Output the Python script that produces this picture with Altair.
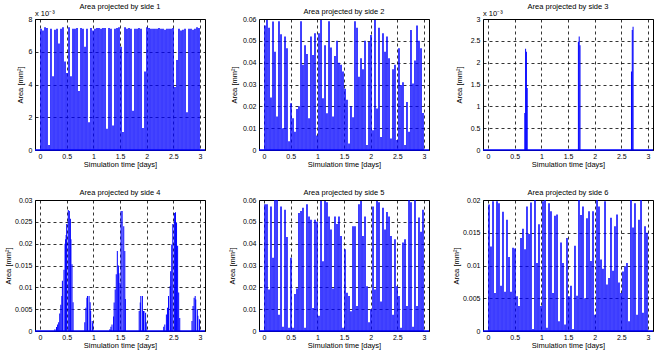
import altair as alt
import pandas as pd

# shared sample times [days] for the dense panels
t_days = [0.019, 0.056, 0.094, 0.131, 0.169, 0.206, 0.244, 0.281, 0.319, 0.356,
          0.394, 0.431, 0.469, 0.506, 0.544, 0.581, 0.619, 0.656, 0.694, 0.731,
          0.769, 0.806, 0.844, 0.881, 0.919, 0.956, 0.994, 1.031, 1.069, 1.106,
          1.144, 1.181, 1.219, 1.256, 1.294, 1.331, 1.369, 1.406, 1.444, 1.481,
          1.519, 1.556, 1.594, 1.631, 1.669, 1.706, 1.744, 1.781, 1.819, 1.856,
          1.894, 1.931, 1.969, 2.006, 2.044, 2.081, 2.119, 2.156, 2.194, 2.231,
          2.269, 2.306, 2.344, 2.381, 2.419, 2.456, 2.494, 2.531, 2.569, 2.606,
          2.644, 2.681, 2.719, 2.756, 2.794, 2.831, 2.869, 2.906, 2.944, 2.981]

# side 1 area, in units of 1e-3 mm^2
side1_area_e3 = [7.4, 7.3, 7.5, 7.45, 0.3, 7.4, 4.5, 7.35, 7.4, 6.5,
                 7.4, 7.5, 5.4, 4.7, 7.5, 4.5, 7.4, 7.4, 7.45, 3.6,
                 7.45, 7.4, 6.3, 7.4, 1.7, 7.45, 7.3, 7.4, 7.45, 7.45,
                 7.4, 7.45, 7.45, 1.3, 7.45, 7.4, 1.5, 7.4, 7.45, 7.5,
                 6.3, 1.1, 7.5, 7.4, 7.45, 7.4, 2.4, 7.4, 7.4, 7.45,
                 7.4, 1.35, 4.8, 7.5, 7.45, 7.4, 7.4, 7.4, 7.4, 7.45,
                 7.4, 7.4, 7.35, 7.4, 7.4, 7.4, 7.45, 3.85, 5.5, 7.4,
                 7.3, 7.35, 7.4, 2.3, 7.4, 7.4, 7.35, 7.4, 7.5, 7.45]

side2_area = [0.057, 0.0595, 0.056, 0.024, 0.0588, 0.045, 0.0153, 0.059, 0.053, 0.01,
              0.052, 0.0466, 0.004, 0.0214, 0.0145, 0.0084, 0.0188, 0.02, 0.059, 0.039,
              0.048, 0.044, 0.0145, 0.052, 0.0435, 0.0535, 0.0066, 0.0535, 0.0595, 0.0237,
              0.048, 0.0168, 0.059, 0.047, 0.0153, 0.043, 0.05, 0.04, 0.039, 0.036,
              0.028, 0.023, 0.003, 0.02, 0.015, 0.059, 0.056, 0.0336, 0.042, 0.037,
              0.05, 0.0023, 0.0496, 0.0527, 0.009, 0.0595, 0.019, 0.056, 0.006, 0.0535,
              0.045, 0.052, 0.042, 0.0053, 0.037, 0.039, 0.0046, 0.0466, 0.0298, 0.031,
              0.0023, 0.022, 0.0084, 0.055, 0.0305, 0.041, 0.057, 0.05, 0.0466, 0.017]

# side 3: only three short bursts (units of 1e-3 mm^2)
side3_t = [0.69, 0.705, 0.72, 0.735, 1.695, 1.71, 1.725, 2.69, 2.705, 2.72]
side3_area_e3 = [0.85, 2.32, 2.25, 1.42, 2.48, 2.6, 2.4, 1.8, 2.75, 2.82]

side4_t = [0.28, 0.31, 0.33, 0.35, 0.37, 0.39, 0.41, 0.42, 0.45, 0.47, 0.48, 0.49, 0.5, 0.53,
           0.55, 0.57, 0.58, 0.6, 0.62,
           0.84, 0.86, 0.88, 0.89, 0.92, 0.94, 0.95, 0.98, 0.99,
           1.31, 1.33, 1.35, 1.38, 1.39, 1.41, 1.43, 1.45, 1.47, 1.48, 1.5, 1.52, 1.54, 1.57,
           1.59, 1.6,
           1.86, 1.88, 1.89, 1.92, 1.94, 1.95, 1.98, 1.99,
           2.32, 2.34, 2.37, 2.39, 2.41, 2.44, 2.45, 2.47, 2.49, 2.52, 2.54, 2.56, 2.58, 2.6, 2.62,
           2.85, 2.87, 2.89, 2.91, 2.92, 2.95, 2.96, 2.99]
side4_area = [0.0004, 0.0009, 0.0015, 0.002, 0.004, 0.006, 0.008, 0.0115, 0.014, 0.02, 0.021,
              0.022, 0.0245, 0.0277, 0.0275, 0.0257, 0.021, 0.0153, 0.0066,
              0.002, 0.0053, 0.0076, 0.008, 0.008, 0.0066, 0.0046, 0.0023, 0.0018,
              0.0004, 0.001, 0.0015, 0.0033, 0.0065, 0.0095, 0.013, 0.0183, 0.015, 0.0132, 0.011,
              0.0275, 0.0275, 0.024, 0.0183, 0.0073,
              0.0046, 0.0065, 0.008, 0.008, 0.0046, 0.0046, 0.0042, 0.002,
              0.001, 0.0015, 0.0038, 0.0053, 0.008, 0.0103, 0.0137, 0.0198, 0.0245, 0.027, 0.0272,
              0.0248, 0.0195, 0.0088, 0.003,
              0.0023, 0.0057, 0.0076, 0.008, 0.0072, 0.005, 0.0035, 0.0027]

side5_area = [0.058, 0.058, 0.019, 0.057, 0.0335, 0.06, 0.06, 0.0075, 0.057, 0.002,
              0.0555, 0.043, 0.0015, 0.0335, 0.0015, 0.017, 0.0195, 0.054, 0.055, 0.0565,
              0.0015, 0.058, 0.0525, 0.051, 0.0105, 0.051, 0.05, 0.007, 0.0595, 0.032,
              0.0595, 0.059, 0.0525, 0.0465, 0.0195, 0.0525, 0.049, 0.0525, 0.0435, 0.0015,
              0.0375, 0.0175, 0.016, 0.009, 0.048, 0.048, 0.0115, 0.058, 0.0595, 0.0435,
              0.0525, 0.0205, 0.004, 0.01, 0.057, 0.019, 0.0595, 0.059, 0.0135, 0.0565,
              0.0465, 0.0545, 0.0525, 0.0435, 0.0075, 0.042, 0.0205, 0.016, 0.0015, 0.0405,
              0.042, 0.0115, 0.06, 0.059, 0.002, 0.06, 0.0115, 0.052, 0.0455, 0.0555]

side6_area = [0.0193, 0.0129, 0.0198, 0.0058, 0.0198, 0.0195, 0.0069,
              0.0182, 0.006, 0.017, 0.0113, 0.006, 0.0127, 0.0126,
              0.0053, 0.0038, 0.0142, 0.0156,
              0.0125, 0.019, 0.0148, 0.0196, 0.0003, 0.02,
              0.0104, 0.0163, 0.0038,
              0.0198, 0.02, 0.0005, 0.0195, 0.0183,
              0.0058, 0.0176, 0.0178, 0.0015, 0.0135, 0.0104, 0.001, 0.0142, 0.0053, 0.0069,
              0.0003, 0.013, 0.0054, 0.02, 0.0177,
              0.019, 0.005, 0.0172, 0.0183, 0.0107, 0.0183, 0.0025,
              0.02, 0.019, 0.0109, 0.0095, 0.0198, 0.0071,
              0.0081, 0.0173, 0.0092, 0.016, 0.0178, 0.0074, 0.0058,
              0.0091, 0.0099, 0.0104, 0.0015,
              0.02, 0.0158, 0.0195, 0.0025, 0.017, 0.02, 0.0028, 0.016, 0.015]

x_ticks = [0, 0.5, 1, 1.5, 2, 2.5, 3]
y_ticks_1 = [0, 2, 4, 6, 8]
y_ticks_2 = [0, 0.01, 0.02, 0.03, 0.04, 0.05, 0.06]
y_ticks_3 = [0, 0.5, 1, 1.5, 2, 2.5, 3]
y_ticks_4 = [0, 0.005, 0.01, 0.015, 0.02, 0.025, 0.03]
y_ticks_6 = [0, 0.005, 0.01, 0.015, 0.02]

FONT = "Liberation Sans"
BLUE = "#0000ff"
W, H = 170, 131


def panel(t, a, title, yticks, bar_w, exp_label=None, title_pad=4):
    df = pd.DataFrame({"t": t, "a": a})
    x = alt.X("t:Q", scale=alt.Scale(domain=[0, 3], nice=False),
              axis=alt.Axis(values=x_ticks, format="~g", title="Simulation time [days]"))
    y = alt.Y("a:Q", scale=alt.Scale(domain=[yticks[0], yticks[-1]], nice=False),
              axis=alt.Axis(values=yticks, format="~g", title="Area [mm²]", titlePadding=title_pad))
    bars = alt.Chart(df).mark_bar(size=bar_w, color=BLUE, clip=True).encode(x=x, y=y)
    one = pd.DataFrame({"z": [0]})
    base = alt.Chart(one).mark_rule(color=BLUE, strokeWidth=1.5).encode(
        x=alt.value(0), x2=alt.value(W), y=alt.value(H))
    layers = [bars, base]
    if exp_label:
        txt = alt.Chart(one).mark_text(align="left", baseline="bottom", fontSize=7.5,
                                       font=FONT, color="black").encode(
            x=alt.value(0), y=alt.value(-1), text=alt.value(exp_label))
        layers.append(txt)
    return alt.layer(*layers).properties(
        width=W, height=H,
        title=alt.TitleParams(title, fontSize=7.5, fontWeight="normal", font=FONT,
                              color="black", offset=0))


p1 = panel(t_days, side1_area_e3, "Area projected by side 1", y_ticks_1, 1.5, "x 10⁻³", 4)
p2 = panel(t_days, side2_area, "Area projected by side 2", y_ticks_2, 1.5, None, 4)
p3 = panel(side3_t, side3_area_e3, "Area projected by side 3", y_ticks_3, 1.0, "x 10⁻³", 7)
p4 = panel(side4_t, side4_area, "Area projected by side 4", y_ticks_4, 1.0, None, 2)
p5 = panel(t_days, side5_area, "Area projected by side 5", y_ticks_2, 1.5, None, 6)
p6 = panel(t_days, side6_area, "Area projected by side 6", y_ticks_6, 1.5, None, 2)

chart = alt.concat(p1, p2, p3, p4, p5, p6, columns=3,
                   spacing={"row": 50, "column": 54}, bounds="flush").properties(
    padding={"left": 3, "top": 2, "right": 5, "bottom": 2},
    background="white",
).configure_view(stroke="black", strokeWidth=1).configure_axis(
    grid=True, gridColor="black", gridDash=[3, 3], gridOpacity=1, gridWidth=0.8,
    domain=False, ticks=False, zindex=1,
    labelFont=FONT, labelFontSize=7, labelColor="black",
    titleFont=FONT, titleFontSize=7.5, titleFontWeight="normal", titleColor="black",
).configure_axisX(labelPadding=2, titlePadding=1).configure_axisY(labelPadding=3)

chart.save("out.html", embed_options={"renderer": "svg", "actions": False})
